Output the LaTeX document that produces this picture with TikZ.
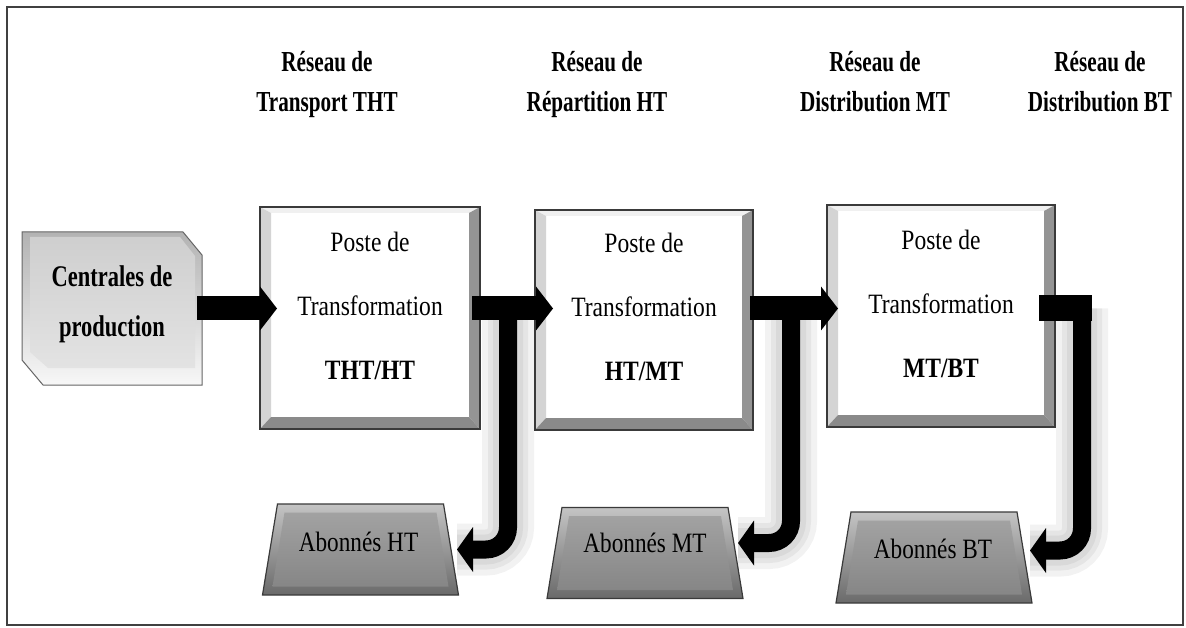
\documentclass[tikz,border=0pt]{standalone}
\usepackage{fontspec}
\setmainfont{Liberation Serif}
\usepackage{graphicx}
\usetikzlibrary{arrows.meta,calc}
\definecolor{bordc}{HTML}{3A3A3A}
\definecolor{abT}{HTML}{C4C4C4}
\definecolor{abB}{HTML}{6A6A6A}
\definecolor{abFT}{HTML}{A2A2A2}
\definecolor{abFB}{HTML}{868686}
\newcommand\ttltxt[2]{\scalebox{0.73}[1]{\begin{tabular}[t]{@{}c@{}}#1\\#2\end{tabular}}}
\newcommand\posttxt[3]{\scalebox{0.84}[1]{\begin{tabular}[t]{@{}c@{}}#1\\#2\\\textbf{#3}\end{tabular}}}
\newcommand\centtxt[2]{\scalebox{0.75}[1]{\begin{tabular}[t]{@{}c@{}}#1\\#2\end{tabular}}}
\newcommand\abtxt[1]{\scalebox{0.83}[1]{#1}}
\newcommand\pbev[1]{%
 \fill[bvT] (#1.north west) -- (#1.north east) -- ([shift={(-11,6)}]#1.north east) -- ([shift={(11,6)}]#1.north west) -- cycle;
 \fill[bvL] (#1.north west) -- ([shift={(11,6)}]#1.north west) -- ([shift={(11,-12)}]#1.south west) -- (#1.south west) -- cycle;
 \fill[bvR] (#1.north east) -- ([shift={(-11,6)}]#1.north east) -- ([shift={(-11,-12)}]#1.south east) -- (#1.south east) -- cycle;
 \fill[bvB] (#1.south west) -- ([shift={(11,-12)}]#1.south west) -- ([shift={(-11,-12)}]#1.south east) -- (#1.south east) -- cycle;
 \draw[line width=1.2pt, draw=bordc] (#1.north west) rectangle (#1.south east);
}
\newcommand\abev[1]{%
 \shadedraw[top color=abT, bottom color=abB, draw=bordc, line width=1.2pt] ([shift={(-83,-45.5)}]#1.center) -- ([shift={(83,-45.5)}]#1.center) -- ([shift={(98,45.5)}]#1.center) -- ([shift={(-98,45.5)}]#1.center) -- cycle;
 \shade[top color=abFT, bottom color=abFB] ([shift={(-76,-37)}]#1.center) -- ([shift={(76,-37)}]#1.center) -- ([shift={(88,37)}]#1.center) -- ([shift={(-88,37)}]#1.center) -- cycle;
}
\begin{document}
\begin{tikzpicture}[x=1pt,y=-1pt,
 frame/.style={draw=black!75, line width=1.8pt},
 pbox/.style={draw=bordc, line width=1.2pt, fill=white, outer sep=0pt, inner sep=0pt},
 hidden/.style={inner sep=0pt, outer sep=0pt},
 bvT/.style={fill=black!6},
 bvL/.style={fill=black!17},
 bvR/.style={fill=black!42},
 bvB/.style={fill=black!46},
 ttl/.style={anchor=base, inner sep=0pt, font=\fontsize{29}{40}\selectfont\bfseries},
 ptx/.style={anchor=base, inner sep=0pt, font=\fontsize{28}{64}\selectfont},
 ctx/.style={anchor=base, inner sep=0pt, font=\fontsize{30}{50}\selectfont\bfseries},
 atx/.style={anchor=base, inner sep=0pt, font=\fontsize{28}{34}\selectfont},
 harrow/.style={line width=24pt, -{Triangle[width=44pt,length=17pt,line width=0pt]}},
 barrow/.style={line width=18pt, rounded corners=22pt, -{Triangle[width=45pt,length=16pt,line width=0pt]}},
 glow/.style={line width=#1, draw=black, opacity=0.05, rounded corners=22pt},
]
\useasboundingbox (0,0) rectangle (1186,628);
\fill[white] (0,0) rectangle (1186,628);
\draw[frame] (7,7) rectangle (1183,625);

% titles
\node[ttl] (t1) at (327,72) {\ttltxt{Réseau de}{Transport THT}};
\node[ttl] (t2) at (597,72) {\ttltxt{Réseau de}{Répartition HT}};
\node[ttl] (t3) at (875,72) {\ttltxt{Réseau de}{Distribution MT}};
\node[ttl] (t4) at (1100,72) {\ttltxt{Réseau de}{Distribution BT}};

% Centrales de production
\node[hidden, minimum width=180pt, minimum height=153pt] (c) at (112,308.5) {};
\shadedraw[top color=black!30, bottom color=black!3, draw=black!60, line width=1pt]
  (22,232) -- (183,232) -- (202,255) -- (202,385) -- (43,385) -- (22,360) -- cycle;
\shade[top color=black!19, bottom color=black!11]
  (30,237) -- (180,237) -- (195,256) -- (195,368) -- (48,368) -- (30,352) -- cycle;
\node[ctx] (ct) at (112,287) {\centtxt{Centrales de}{production}};

% postes de transformation
\node[pbox, minimum width=220pt, minimum height=222pt] (b1) at (370,318) {};
\pbev{b1}
\node[pbox, minimum width=218pt, minimum height=220pt] (b2) at (644,320) {};
\pbev{b2}
\node[pbox, minimum width=228pt, minimum height=222pt] (b3) at (941,316) {};
\pbev{b3}
\node[ptx] (b1t) at (370,252) {\posttxt{Poste de}{Transformation}{THT/HT}};
\node[ptx] (b2t) at (644,253) {\posttxt{Poste de}{Transformation}{HT/MT}};
\node[ptx] (b3t) at (941,250) {\posttxt{Poste de}{Transformation}{MT/BT}};

% abonnes
\node[hidden, minimum width=195pt, minimum height=91pt] (a1) at (360.5,549.5) {};
\abev{a1}
\node[hidden, minimum width=196pt, minimum height=90pt] (a2) at (645,553) {};
\abev{a2}
\node[hidden, minimum width=198pt, minimum height=91pt] (a3) at (934,557.5) {};
\abev{a3}
\node[atx] (a1t) at (358.5,551) {\abtxt{Abonnés HT}};
\node[atx] (a2t) at (645,552) {\abtxt{Abonnés MT}};
\node[atx] (a3t) at (933,558) {\abtxt{Abonnés BT}};

% junctions
\coordinate (j1) at ($(c.east -| b1.east)+(28,0)$);
\coordinate (j2) at ($(c.east -| b2.east)+(38,0)$);
\coordinate (j3) at ($(c.east -| b3.east)+(27,0)$);

% glows
\foreach \w in {52pt,40pt,30pt}{
  \draw[glow=\w] (j1) |- ($(a1.east)+(-1,0)$);
  \draw[glow=\w] (j2) |- ($(a2.east)+(-5,-10)$);
  \draw[glow=\w] (j3) |- ($(a3.east)+(-3,-7)$);
}

% main arrows
\draw[harrow] ($(c.east)+(-5,0)$) -- ($(c.east -| b1.west)+(17,0)$);
\draw[harrow] ($(c.east -| b1.east)+(-8,0)$) -- ($(c.east -| b2.west)+(18,0)$);
\draw[harrow] ($(c.east -| b2.east)+(-3,0)$) -- ($(c.east -| b3.west)+(11,0)$);
\draw[line width=26pt] ($(c.east -| b3.east)+(-16,0)$) -- ($(j3)+(9.5,0)$);

% branch arrows
\draw[barrow] (j1) |- ($(a1.east)+(-1,0)$);
\draw[barrow] (j2) |- ($(a2.east)+(-5,-10)$);
\draw[barrow] (j3) |- ($(a3.east)+(-3,-7)$);
\end{tikzpicture}
\end{document}
